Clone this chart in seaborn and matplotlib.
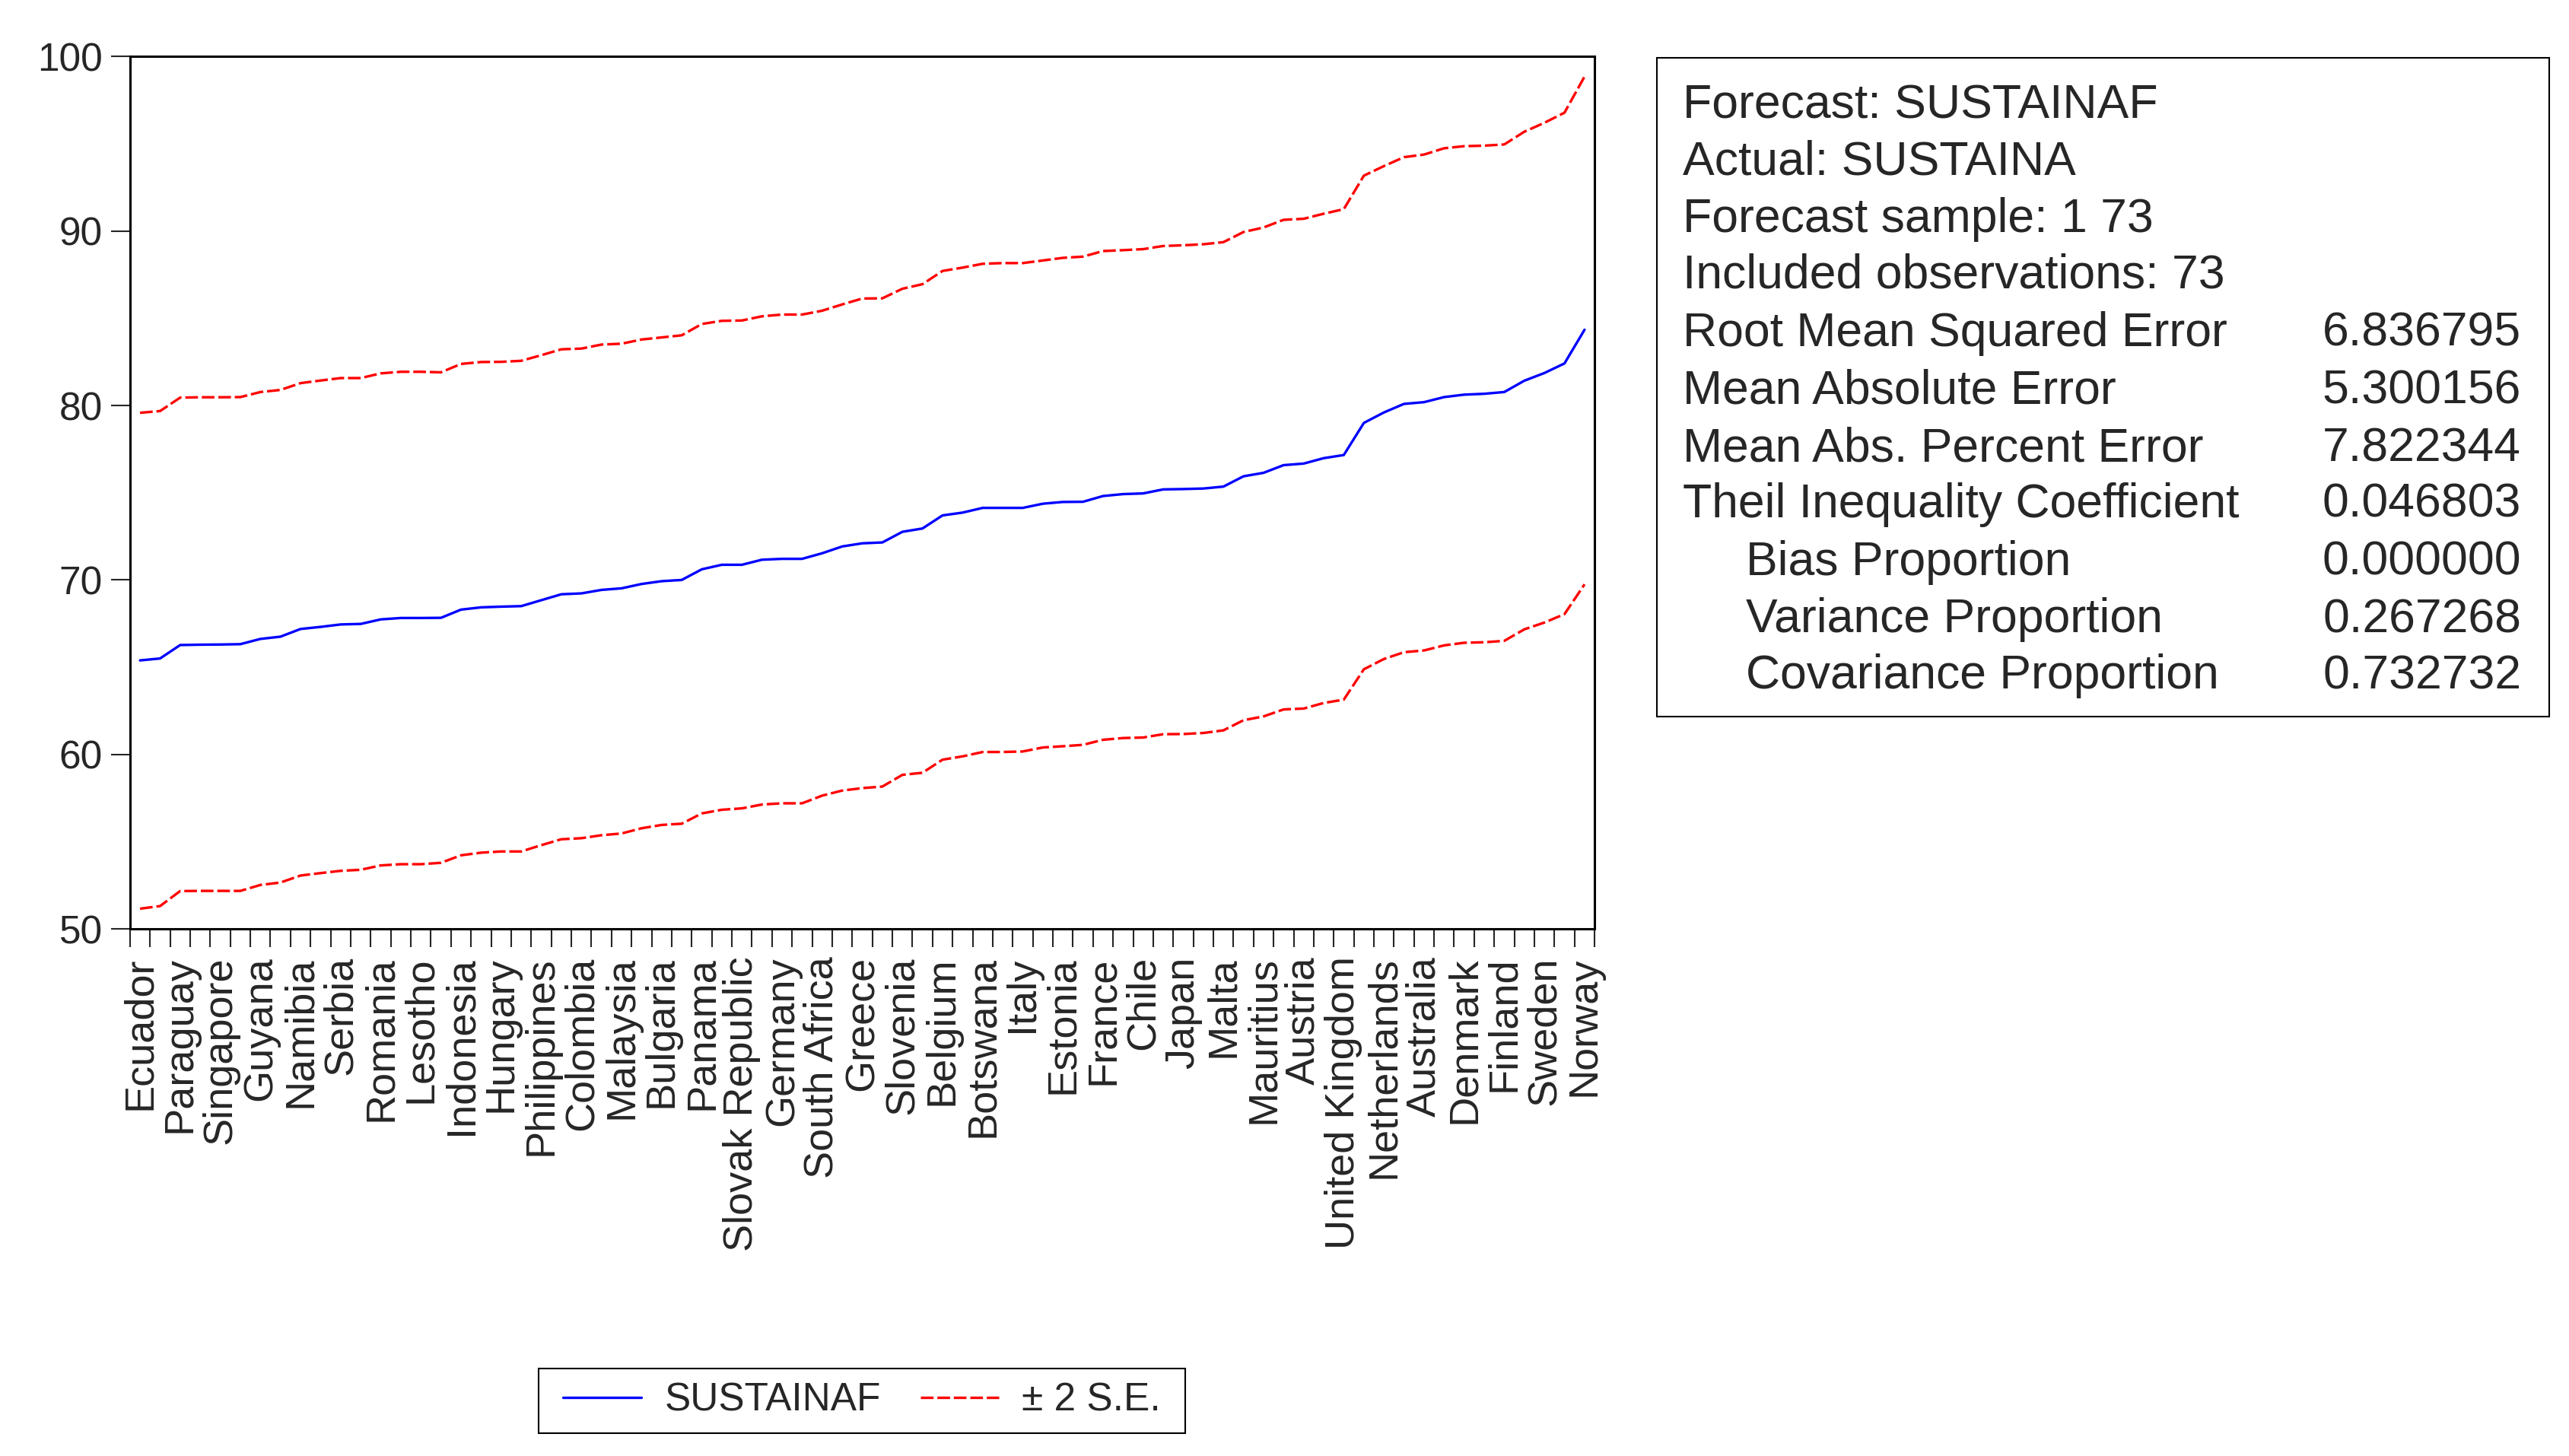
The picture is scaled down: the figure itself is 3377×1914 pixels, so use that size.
import numpy as np
import pandas as pd
import matplotlib.pyplot as plt
import seaborn as sns
from matplotlib.lines import Line2D
from matplotlib.patches import Rectangle

# forecast and +/- 2 S.E. band, 73 countries sorted by forecast
forecast = [65.39, 65.50, 66.27, 66.29, 66.30, 66.32, 66.62, 66.75, 67.19, 67.31,
            67.45, 67.48, 67.74, 67.82, 67.82, 67.83, 68.30, 68.43, 68.47, 68.50,
            68.84, 69.18, 69.23, 69.43, 69.52, 69.77, 69.93, 70.00, 70.61, 70.87,
            70.87, 71.16, 71.21, 71.21, 71.53, 71.92, 72.10, 72.15, 72.76, 72.95,
            73.70, 73.86, 74.13, 74.13, 74.13, 74.37, 74.47, 74.48, 74.81, 74.92,
            74.96, 75.19, 75.21, 75.24, 75.35, 75.94, 76.14, 76.58, 76.67, 76.98,
            77.16, 79.00, 79.60, 80.09, 80.19, 80.48, 80.62, 80.67, 80.77, 81.42,
            81.86, 82.41, 84.34]
upper = [79.58, 79.68, 80.45, 80.47, 80.47, 80.48, 80.77, 80.89, 81.28, 81.43,
         81.57, 81.57, 81.84, 81.93, 81.93, 81.90, 82.38, 82.49, 82.50, 82.56,
         82.88, 83.22, 83.26, 83.49, 83.54, 83.78, 83.90, 84.02, 84.67, 84.85,
         84.87, 85.11, 85.21, 85.21, 85.43, 85.79, 86.13, 86.14, 86.69, 86.95,
         87.71, 87.90, 88.12, 88.16, 88.16, 88.31, 88.46, 88.53, 88.85, 88.90,
         88.96, 89.14, 89.18, 89.24, 89.36, 89.94, 90.20, 90.64, 90.70, 90.99,
         91.25, 93.17, 93.72, 94.23, 94.38, 94.74, 94.86, 94.89, 94.96, 95.69,
         96.20, 96.78, 98.85]
lower = [51.16, 51.31, 52.17, 52.18, 52.18, 52.18, 52.52, 52.66, 53.06, 53.20,
         53.33, 53.39, 53.64, 53.71, 53.71, 53.79, 54.22, 54.37, 54.44, 54.44,
         54.80, 55.14, 55.20, 55.37, 55.47, 55.77, 55.96, 56.03, 56.62, 56.83,
         56.91, 57.13, 57.20, 57.20, 57.64, 57.93, 58.07, 58.16, 58.83, 58.95,
         59.70, 59.89, 60.14, 60.14, 60.17, 60.40, 60.47, 60.55, 60.84, 60.94,
         60.97, 61.16, 61.17, 61.23, 61.38, 61.96, 62.18, 62.58, 62.63, 62.95,
         63.14, 64.88, 65.47, 65.86, 65.96, 66.25, 66.40, 66.43, 66.51, 67.17,
         67.56, 68.04, 69.75]

# every other country is labelled on the axis
tick_labels = ['Ecuador', 'Paraguay', 'Singapore', 'Guyana', 'Namibia', 'Serbia',
               'Romania', 'Lesotho', 'Indonesia', 'Hungary', 'Philippines', 'Colombia',
               'Malaysia', 'Bulgaria', 'Panama', 'Slovak Republic', 'Germany',
               'South Africa', 'Greece', 'Slovenia', 'Belgium', 'Botswana', 'Italy',
               'Estonia', 'France', 'Chile', 'Japan', 'Malta', 'Mauritius', 'Austria',
               'United Kingdom', 'Netherlands', 'Australia', 'Denmark', 'Finland',
               'Sweden', 'Norway']

header_lines = ['Forecast: SUSTAINAF', 'Actual: SUSTAINA',
                'Forecast sample: 1 73', 'Included observations: 73']
stat_names = ['Root Mean Squared Error', 'Mean Absolute Error',
              'Mean Abs. Percent Error', 'Theil Inequality Coefficient',
              'Bias Proportion', 'Variance Proportion', 'Covariance Proportion']
stat_values = ['6.836795', '5.300156', '7.822344', '0.046803',
               '0.000000', '0.267268', '0.732732']

sns.set_style('ticks')
plt.rcParams['font.family'] = ['Liberation Sans', 'DejaVu Sans']

obs = np.arange(len(forecast))
df = pd.DataFrame({'obs': obs, 'SUSTAINAF': forecast, 'upper': upper, 'lower': lower})

fig = plt.figure(figsize=(33.77, 19.14), dpi=100)
ax = fig.add_axes([0.0506, 0.362, 0.5701, 0.5992])

dash = (0, (5, 1.5))
sns.lineplot(data=df, x='obs', y='SUSTAINAF', ax=ax, color='#0000ff', linewidth=2.4)
sns.lineplot(data=df, x='obs', y='upper', ax=ax, color='#ff0000', linewidth=2.4, linestyle=dash)
sns.lineplot(data=df, x='obs', y='lower', ax=ax, color='#ff0000', linewidth=2.4, linestyle=dash)

ax.set_xlim(-0.5, len(forecast) - 0.5)
ax.set_ylim(50, 100)
ax.set_xlabel('')
ax.set_ylabel('')

ax.set_yticks(range(50, 101, 10))
ax.tick_params(axis='y', labelsize=37, length=18, width=1.5, pad=8, direction='out')

ax.set_xticks(obs[::2])
ax.set_xticklabels(tick_labels, rotation=90, fontsize=39)
ax.set_xticks(np.arange(-0.5, len(forecast), 1), minor=True)
ax.tick_params(axis='x', which='major', length=0, pad=26)
ax.tick_params(axis='x', which='minor', length=17, width=1.5, direction='out')

for sp in ax.spines.values():
    sp.set_visible(True)
    sp.set_linewidth(2.2)
    sp.set_color('black')

# legend under the plot, with its own frame
handles = [Line2D([], [], color='#0000ff', linewidth=2.4),
           Line2D([], [], color='#ff0000', linewidth=2.4, linestyle=dash)]
fig.legend(handles, ['SUSTAINAF', '\u00b1 2 S.E.'], loc='center',
           bbox_to_anchor=(0.3356, 0.0380), ncol=2, fontsize=37,
           frameon=False, handlelength=2.0, handletextpad=0.6,
           columnspacing=1.0, borderpad=0.3)
fig.patches.append(Rectangle((0.2096, 0.0158), 0.2519, 0.0441, transform=fig.transFigure,
                             fill=False, edgecolor='black', linewidth=1.5))

# statistics box
fig.patches.append(Rectangle((0.6449, 0.5079), 0.3474, 0.4525, transform=fig.transFigure,
                             fill=False, edgecolor='black', linewidth=1.5))

line_y = [62, 96, 131, 165, 200, 235, 270, 304, 339, 374, 408]
y_frac = [1 - (y + 10) / 884 for y in line_y]
for i, txt in enumerate(header_lines):
    fig.text(0.6551, y_frac[i], txt, fontsize=45, va='baseline', ha='left')
for j, (name, val) in enumerate(zip(stat_names, stat_values)):
    yy = y_frac[len(header_lines) + j]
    xx = 0.6795 if j >= 4 else 0.6551
    fig.text(xx, yy, name, fontsize=45, va='baseline', ha='left')
    fig.text(0.9814, yy, val, fontsize=45, va='baseline', ha='right')

fig.savefig('out.png', dpi=100)
